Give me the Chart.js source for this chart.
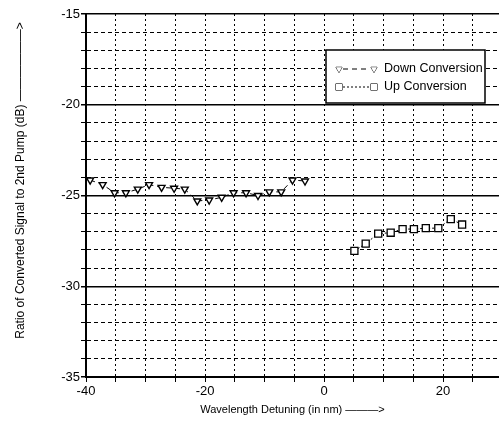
<!DOCTYPE html>
<html>
<head>
<meta charset="utf-8">
<script src="https://cdn.jsdelivr.net/npm/chart.js@4.4.0/dist/chart.umd.min.js"></script>
<style>
  body { margin: 0; background: #fff; }
  #wrap { position: relative; width: 499px; height: 435px; }
</style>
</head>
<body>
<div id="wrap">
  <canvas id="chart" width="499" height="435"></canvas>
</div>
<script>
// wavelength detuning (nm) and converted signal ratio (dB)
const downX = [-39.3, -37.2, -35.2, -33.3, -31.3, -29.4, -27.3, -25.2, -23.4, -21.3, -19.3, -17.2, -15.2, -13.1, -11.1, -9.2, -7.2, -5.3, -3.2];
const downY = [-24.15, -24.4, -24.85, -24.85, -24.65, -24.4, -24.55, -24.6, -24.65, -25.3, -25.25, -25.1, -24.85, -24.85, -25.0, -24.8, -24.8, -24.15, -24.2];
const upX = [5.1, 7.0, 9.1, 11.2, 13.2, 15.1, 17.1, 19.2, 21.3, 23.2];
const upY = [-28.05, -27.65, -27.1, -27.05, -26.85, -26.85, -26.8, -26.8, -26.3, -26.6];

const xLabels = [-40, -20, 0, 20];
const yLabels = [-35, -30, -25, -20, -15];

const font = "'Liberation Sans', Arial, sans-serif";

const toPoints = (xs, ys) => xs.map((x, i) => ({ x: x, y: ys[i] }));

// legend box drawn inside the plot, like the scanned figure
const boxLegend = {
  id: 'boxLegend',
  afterDraw(chart) {
    const ctx = chart.ctx;
    const left = 326, top = 50, w = 159, h = 53;
    ctx.save();
    ctx.fillStyle = '#fff';
    ctx.fillRect(left, top, w, h);
    ctx.strokeStyle = '#000';
    ctx.lineWidth = 1.5;
    ctx.strokeRect(left, top, w, h);

    chart.data.datasets.forEach((ds, i) => {
      const y = top + 19 + i * 18;
      ctx.strokeStyle = '#000';
      ctx.lineWidth = 1;
      ctx.setLineDash(ds.borderDash);
      ctx.beginPath();
      ctx.moveTo(left + 17, y);
      ctx.lineTo(left + 44, y);
      ctx.stroke();
      ctx.setLineDash([]);
      ctx.fillStyle = '#fff';
      const style = {
        pointStyle: ds.pointStyle,
        rotation: ds.rotation || 0,
        radius: ds.pointStyle === 'rect' ? 4.5 : 3.5,
        borderWidth: 1.2,
      };
      Chart.helpers.drawPoint(ctx, style, left + 13, y);
      ctx.fill();
      Chart.helpers.drawPoint(ctx, style, left + 48, y);
      ctx.fill();
      ctx.fillStyle = '#000';
      ctx.font = '12.5px ' + font;
      ctx.textBaseline = 'middle';
      ctx.fillText(ds.label, left + 58, y);
    });
    ctx.restore();
  },
};

new Chart(document.getElementById('chart').getContext('2d'), {
  type: 'scatter',
  data: {
    datasets: [
      {
        label: 'Down Conversion',
        data: toPoints(downX, downY),
        showLine: true,
        borderColor: '#000',
        borderWidth: 1,
        borderDash: [5, 4],
        pointStyle: 'triangle',
        rotation: 180,
        pointRadius: 4,
        pointBackgroundColor: '#fff',
        pointBorderColor: '#000',
        pointBorderWidth: 1.4,
      },
      {
        label: 'Up Conversion',
        data: toPoints(upX, upY),
        showLine: true,
        borderColor: '#000',
        borderWidth: 1,
        borderDash: [2, 2],
        pointStyle: 'rect',
        pointRadius: 5,
        pointBackgroundColor: '#fff',
        pointBorderColor: '#000',
        pointBorderWidth: 1.3,
      },
    ],
  },
  options: {
    responsive: false,
    animation: false,
    layout: { autoPadding: false, padding: { left: 13, top: 14, right: 0, bottom: 14 } },
    plugins: { legend: { display: false }, tooltip: { enabled: false } },
    scales: {
      x: {
        type: 'linear',
        min: -40,
        max: 29.4,
        afterFit: (s) => { s.height = 44; },
        ticks: {
          stepSize: 5,
          includeBounds: false,
          autoSkip: false,
          maxRotation: 0,
          padding: 2,
          color: '#000',
          font: { family: font, size: 13 },
          callback: (v) => (xLabels.includes(v) ? v : ''),
        },
        grid: { color: '#000', lineWidth: 1, tickLength: 5 },
        border: { display: true, color: '#000', width: 2, dash: [2, 3] },
        title: {
          display: true,
          text: 'Wavelength Detuning (in nm) \u2014\u2014\u2014>',
          color: '#000',
          font: { family: font, size: 11 },
          padding: { top: 4, bottom: 4 },
        },
      },
      y: {
        min: -35,
        max: -15,
        afterFit: (s) => { s.width = 73; },
        ticks: {
          stepSize: 1,
          autoSkip: false,
          padding: 1,
          color: '#000',
          font: { family: font, size: 13 },
          callback: (v) => (yLabels.includes(v) ? v : ''),
        },
        grid: {
          color: '#000',
          lineWidth: (ctx) => (ctx.tick && ctx.tick.value % 5 === 0 ? 1.5 : 1),
          tickLength: 5,
        },
        border: {
          display: true,
          color: '#000',
          width: 2,
          dash: (ctx) => (ctx.tick && ctx.tick.value % 5 !== 0 ? [4, 3] : []),
        },
        title: {
          display: true,
          text: '         Ratio of Converted Signal to 2nd Pump (dB) \u2014\u2014\u2014\u2014\u2014\u2014>',
          color: '#000',
          font: { family: font, size: 12 },
          padding: 0,
        },
      },
    },
  },
  plugins: [boxLegend],
});
</script>
</body>
</html>
